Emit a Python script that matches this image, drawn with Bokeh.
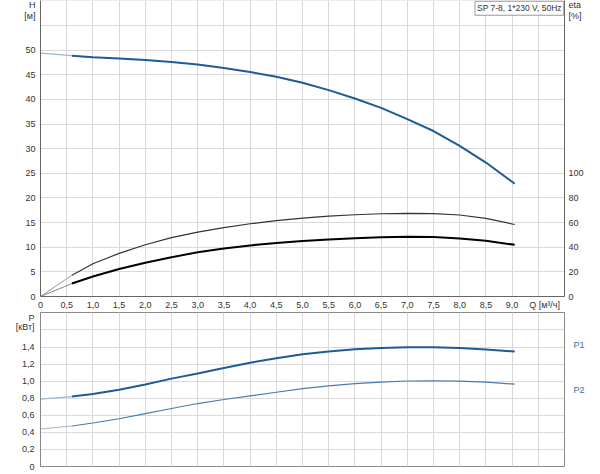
from bokeh.plotting import figure
from bokeh.models import Range1d, LinearAxis, FixedTicker, Label, CustomJSTickFormatter
from bokeh.layouts import column
from bokeh.embed import file_html
from bokeh.resources import INLINE

# ---- data ----
q = [0, 0.6, 1.0, 1.5, 2.0, 2.5, 3.0, 3.5, 4.0, 4.5, 5.0, 5.5, 6.0, 6.5, 7.0, 7.5, 8.0, 8.5, 9.05]
head = [49.4, 48.9, 48.6, 48.3, 48.0, 47.6, 47.1, 46.4, 45.6, 44.6, 43.4, 41.9, 40.2, 38.3, 36.0, 33.6, 30.6, 27.2, 22.9]
eta_a = [0, 17.3, 26.6, 35.0, 42.0, 47.8, 52.3, 56.0, 59.1, 61.6, 63.7, 65.2, 66.4, 67.2, 67.5, 67.3, 66.2, 63.5, 58.5]
eta_b = [0, 10.5, 16.3, 22.4, 27.4, 31.8, 36.0, 39.0, 41.5, 43.4, 45.0, 46.3, 47.4, 48.1, 48.5, 48.3, 47.2, 45.2, 42.0]
p1 = [0.79, 0.82, 0.85, 0.90, 0.96, 1.03, 1.09, 1.155, 1.217, 1.27, 1.315, 1.348, 1.373, 1.39, 1.397, 1.397, 1.388, 1.372, 1.348]
p2 = [0.44, 0.475, 0.51, 0.56, 0.62, 0.68, 0.738, 0.785, 0.827, 0.87, 0.913, 0.945, 0.972, 0.99, 1.002, 1.005, 1.0, 0.988, 0.966]
q_grid = [i * 0.5 for i in range(20)]
q_labels = [i * 0.5 for i in range(19)]
h_grid = [0, 5, 10, 15, 20, 25, 30, 35, 40, 45, 50, 55, 60]
h_labels = [0, 5, 10, 15, 20, 25, 30, 35, 40, 45, 50]
eta_labels = [0, 20, 40, 60, 80, 100]
p_grid = [0, 0.2, 0.4, 0.6, 0.8, 1.0, 1.2, 1.4, 1.6]
p_labels = [0, 0.2, 0.4, 0.6, 0.8, 1.0, 1.2, 1.4]
p_curve_names = ["P1", "P2"]
p_curve_label_pos = [1.42, 0.90]
title_text = "SP 7-8, 1*230 V, 50Hz"
q_title = "Q [м³/ч]"
h_title = ["H", "[м]"]
eta_title = ["eta", "[%]"]
p_title = ["P", "[кВт]"]
q_split = 0.6

FONT = "Liberation Sans"
TXT = "#333333"
BLUE = "#1f5b98"
BLUE_FADE = "#9db6d0"
GRID = "#d9d9d9"
AXIS = "#666666"


def split(xs, ys):
    a = [(x, y) for x, y in zip(xs, ys) if x <= q_split]
    b = [(x, y) for x, y in zip(xs, ys) if x >= q_split]
    return ([t[0] for t in a], [t[1] for t in a]), ([t[0] for t in b], [t[1] for t in b])


def style_axis(ax):
    ax.major_tick_out = 0
    ax.major_tick_in = 0
    ax.minor_tick_out = 0
    ax.minor_tick_in = 0
    ax.axis_line_color = AXIS
    ax.major_label_text_font = FONT
    ax.major_label_text_font_size = "9px"
    ax.major_label_text_color = TXT


def label_map_formatter(values, labels):
    pairs = ",".join("[%r,%r]" % (float(v), s) for v, s in zip(values, labels))
    return CustomJSTickFormatter(code="""
        const m = [%s];
        for (const [v, s] of m) { if (Math.abs(tick - v) < 1e-6) return s; }
        return "";
    """ % pairs)


def comma(v, digits=1):
    if abs(v) < 1e-9:
        return "0"
    return ("%.*f" % (digits, v)).replace(".", ",")


# ---------------- top chart: H and eta ----------------
H_TOP = 60.1
top = figure(frame_width=524, frame_height=296, x_range=Range1d(0, 10), y_range=Range1d(0, H_TOP),
             output_backend="svg", toolbar_location=None,
             min_border_left=40, min_border_right=34, min_border_top=0, min_border_bottom=0)
top.outline_line_color = None
top.background_fill_color = "white"
top.border_fill_color = "white"
top.extra_y_ranges = {"eta": Range1d(0, H_TOP * 4)}

qx_title = 9.62
top.xaxis.ticker = FixedTicker(ticks=q_labels + [qx_title])
top.xaxis.formatter = label_map_formatter(q_labels + [qx_title], [comma(v) for v in q_labels] + [q_title])
top.xaxis.major_label_standoff = 3
style_axis(top.xaxis[0])
top.xgrid.ticker = FixedTicker(ticks=q_grid)

h_title_pos = [59.2, 57.0]
top.yaxis.ticker = FixedTicker(ticks=h_labels + h_title_pos)
top.yaxis.formatter = label_map_formatter(h_labels + h_title_pos, [str(v) for v in h_labels] + h_title)
top.yaxis.major_label_standoff = 5
style_axis(top.yaxis[0])
top.ygrid.ticker = FixedTicker(ticks=h_grid)

eta_title_pos = [236.5, 228.0]
eta_axis = LinearAxis(y_range_name="eta", ticker=FixedTicker(ticks=eta_labels + eta_title_pos),
                      formatter=label_map_formatter(eta_labels + eta_title_pos,
                                                    [str(v) for v in eta_labels] + eta_title),
                      major_label_standoff=4)
style_axis(eta_axis)
top.add_layout(eta_axis, "right")
top.xgrid.grid_line_color = GRID
top.ygrid.grid_line_color = GRID

(h0, h1) = split(q, head)
top.line(h0[0], h0[1], line_color=BLUE_FADE, line_width=1.2)
top.line(h1[0], h1[1], line_color=BLUE, line_width=2)
(a0, a1) = split(q, eta_a)
top.line(a0[0], a0[1], line_color="#999999", line_width=1, y_range_name="eta")
top.line(a1[0], a1[1], line_color="#333333", line_width=1.2, y_range_name="eta")
(b0, b1) = split(q, eta_b)
top.line(b0[0], b0[1], line_color="#888888", line_width=1, y_range_name="eta")
top.line(b1[0], b1[1], line_color="#000000", line_width=2, y_range_name="eta")

top.add_layout(Label(x=9.985, y=H_TOP - 0.15, text=title_text, text_align="right", text_baseline="top",
                     text_font=FONT, text_font_size="8.5px", text_color=TXT,
                     border_line_color="#999999", background_fill_color="white", padding=2))

# ---------------- bottom chart: P ----------------
P_TOP = 1.805
bot = figure(frame_width=524, frame_height=154, x_range=Range1d(0, 10), y_range=Range1d(0, P_TOP),
             output_backend="svg", toolbar_location=None,
             min_border_left=40, min_border_right=34, min_border_top=0, min_border_bottom=6)
bot.outline_line_color = "#888888"
bot.background_fill_color = "white"
bot.border_fill_color = "white"
bot.xaxis.visible = False
bot.xgrid.ticker = FixedTicker(ticks=q_grid)

p_title_pos = [1.74, 1.635]
bot.yaxis.ticker = FixedTicker(ticks=p_labels + p_title_pos)
bot.yaxis.formatter = label_map_formatter(p_labels + p_title_pos, [comma(v) for v in p_labels] + p_title)
bot.yaxis.major_label_standoff = 6
style_axis(bot.yaxis[0])
bot.yaxis.axis_line_color = "#888888"
bot.ygrid.ticker = FixedTicker(ticks=p_grid)
bot.xgrid.grid_line_color = GRID
bot.ygrid.grid_line_color = GRID

p_right = LinearAxis(ticker=FixedTicker(ticks=p_curve_label_pos),
                     formatter=label_map_formatter(p_curve_label_pos, p_curve_names),
                     major_label_standoff=9)
style_axis(p_right)
p_right.axis_line_color = None
p_right.major_label_text_color = "#3a6fa8"
bot.add_layout(p_right, "right")

(pa0, pa1) = split(q, p1)
bot.line(pa0[0], pa0[1], line_color=BLUE_FADE, line_width=1.2)
bot.line(pa1[0], pa1[1], line_color=BLUE, line_width=2)
(pb0, pb1) = split(q, p2)
bot.line(pb0[0], pb0[1], line_color=BLUE_FADE, line_width=1)
bot.line(pb1[0], pb1[1], line_color="#4a7bb0", line_width=1.2)

layout = column(top, bot, spacing=0)
open("out.html", "w").write(file_html(layout, INLINE))
